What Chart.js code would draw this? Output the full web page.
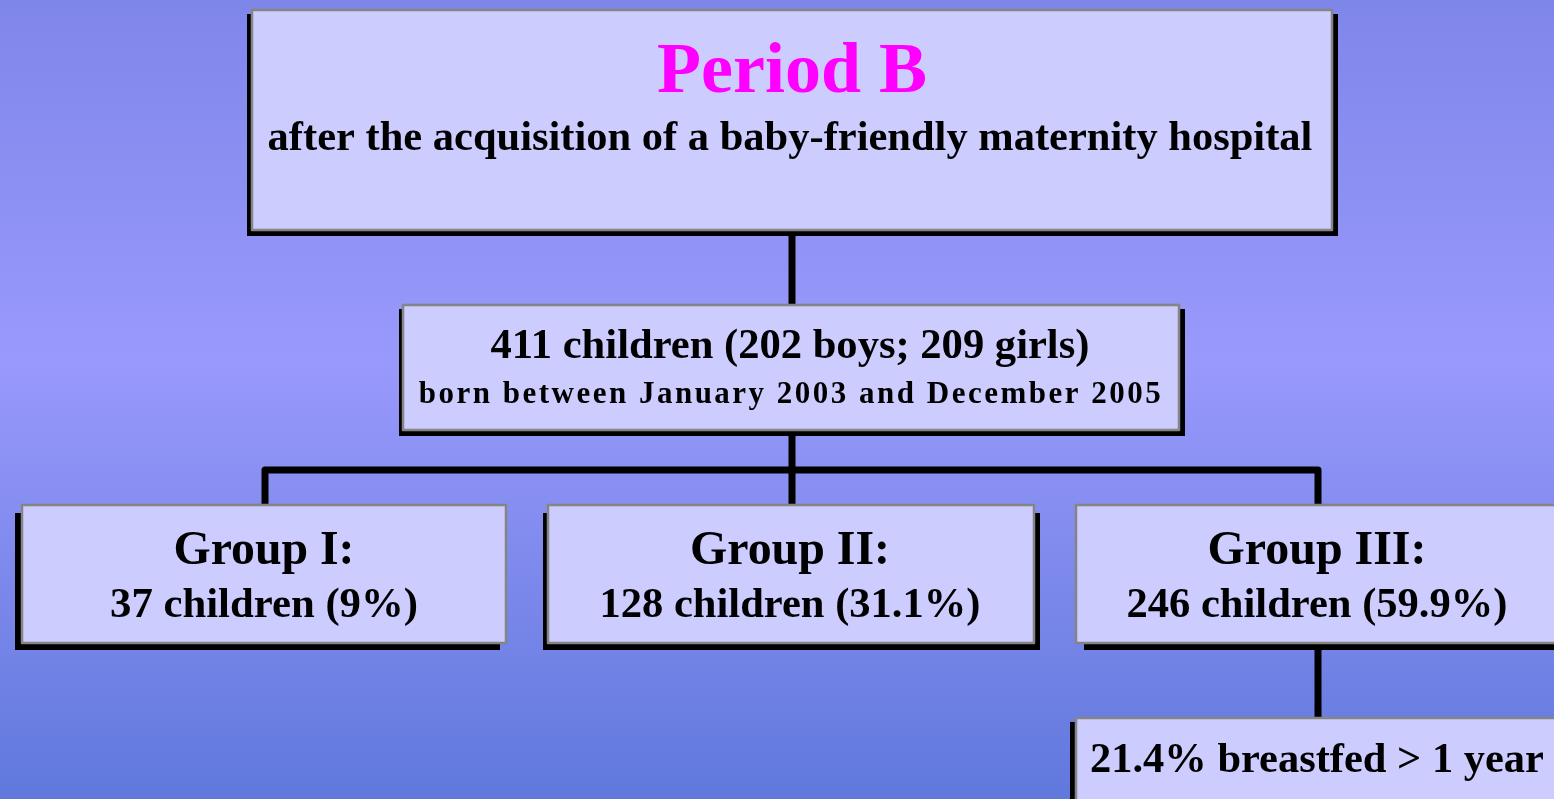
<!DOCTYPE html>
<html>
<head>
<meta charset="utf-8">
<script src="https://cdn.jsdelivr.net/npm/chart.js@4/dist/chart.umd.min.js"></script>
<style>
  html, body { margin: 0; padding: 0; overflow: hidden; }
  #flow { display: block; }
</style>
</head>
<body>
<canvas id="flow" width="1554" height="799"></canvas>
<script>
// Data
const periodTitle = "Period B";
const periodSubtitle = "after the acquisition of a baby-friendly maternity hospital";
const totalChildren = 411;
const boys = 202;
const girls = 209;
const birthRange = "born between January 2003 and December 2005";
const groupNames = ["Group I:", "Group II:", "Group III:"];
const groupCounts = [37, 128, 246];
const groupPercents = ["9", "31.1", "59.9"];
const breastfedPercent = "21.4";

// Layout (in page units, 0..1554 x 0..799)
const boxes = [
  { x0: 252, y0: 10, x1: 1332, y1: 230, sh: { l: 5, r: 6, b: 6, t: 4 } },
  { x0: 403, y0: 305, x1: 1179, y1: 430, sh: { l: 4, r: 6, b: 6, t: 4 } },
  { x0: 22, y0: 505, x1: 506, y1: 643, sh: { l: 7, r: -6, b: 7, t: 8 } },
  { x0: 548, y0: 505, x1: 1034, y1: 643, sh: { l: 5, r: 6, b: 7, t: 8 } },
  { x0: 1076, y0: 505, x1: 1560, y1: 643, sh: { l: -8, r: 0, b: 7, t: 8 } },
  { x0: 1076, y0: 718, x1: 1560, y1: 810, sh: { l: 6, r: 0, b: 6, t: 4 } },
];
const connectors = [
  [[792, 230], [792, 305]],
  [[792, 430], [792, 470]],
  [[265, 505], [265, 470], [1318, 470], [1318, 505]],
  [[792, 470], [792, 505]],
  [[1318, 643], [1318, 718]],
];
const groupCenters = [264, 790, 1317];

const texts = [
  { t: periodTitle, cx: 792, base: 92, w: 270, color: "#ff00ff" },
  { t: periodSubtitle, cx: 790, base: 150, w: 1045 },
  { t: `${totalChildren} children (${boys} boys; ${girls} girls)`, cx: 790, base: 358, w: 599 },
  { t: birthRange, cx: 791, base: 403, w: 742, size: 31 },
  ...groupNames.map((g, i) => ({ t: g, cx: groupCenters[i], base: 564, w: [181, 200, 219][i] })),
  ...groupCounts.map((c, i) => ({ t: `${c} children (${groupPercents[i]}%)`, cx: groupCenters[i], base: 617, w: [308, 381, 381][i] })),
  { t: `${breastfedPercent}% breastfed > 1 year`, lx: 1090, base: 772, w: 454 },
];

const FONT = "'Liberation Serif', 'Times New Roman', serif";

const flowPlugin = {
  id: "flow",
  beforeDraw(chart) {
    const { ctx, width, height } = chart;
    const g = ctx.createLinearGradient(0, 0, 0, height);
    g.addColorStop(0, "#7f86ea");
    g.addColorStop(0.45, "#9999fb");
    g.addColorStop(1, "#6078dc");
    ctx.save();
    ctx.fillStyle = g;
    ctx.fillRect(0, 0, width, height);
    ctx.restore();
  },
  afterDatasetsDraw(chart) {
    const { ctx } = chart;
    const X = (v) => chart.scales.x.getPixelForValue(v);
    const Y = (v) => chart.scales.y.getPixelForValue(v);
    ctx.save();

    // connectors
    ctx.strokeStyle = "#000";
    ctx.lineWidth = 7;
    ctx.lineJoin = "round";
    connectors.forEach(pts => {
      ctx.beginPath();
      pts.forEach(([x, y], i) => i ? ctx.lineTo(X(x), Y(y)) : ctx.moveTo(X(x), Y(y)));
      ctx.stroke();
    });

    // boxes
    boxes.forEach(b => {
      const s = b.sh;
      ctx.fillStyle = "#000";
      ctx.fillRect(X(b.x0 - s.l), Y(b.y0 + s.t), X(b.x1 + s.r) - X(b.x0 - s.l), Y(b.y1 + s.b) - Y(b.y0 + s.t));
      ctx.fillStyle = "#ccccff";
      ctx.fillRect(X(b.x0), Y(b.y0), X(b.x1) - X(b.x0), Y(b.y1) - Y(b.y0));
      ctx.strokeStyle = "#858585";
      ctx.lineWidth = 2.5;
      ctx.strokeRect(X(b.x0), Y(b.y0), X(b.x1) - X(b.x0), Y(b.y1) - Y(b.y0));
    });

    // text, sized to fit measured width
    ctx.textBaseline = "alphabetic";
    ctx.textAlign = "left";
    texts.forEach(tx => {
      ctx.letterSpacing = "0px";
      ctx.font = `bold 100px ${FONT}`;
      const m = ctx.measureText(tx.t).width;
      const target = X(tx.w) - X(0);
      let size = target / m * 100;
      if (tx.size) {
        size = tx.size;
        ctx.font = `bold ${size}px ${FONT}`;
        const mm = ctx.measureText(tx.t).width;
        ctx.letterSpacing = ((target - mm) / (tx.t.length - 1)) + "px";
      }
      ctx.font = `bold ${size}px ${FONT}`;
      ctx.fillStyle = tx.color || "#000";
      const w = ctx.measureText(tx.t).width;
      const left = tx.lx !== undefined ? X(tx.lx) : X(tx.cx) - w / 2;
      ctx.fillText(tx.t, left, Y(tx.base));
    });
    ctx.restore();
  },
};

new Chart(document.getElementById("flow").getContext("2d"), {
  type: "scatter",
  data: { datasets: [{ data: [], pointRadius: 0 }] },
  options: {
    responsive: false,
    animation: false,
    events: [],
    layout: { padding: 0 },
    plugins: { legend: { display: false }, tooltip: { enabled: false } },
    scales: {
      x: { type: "linear", min: 0, max: 1554, display: false },
      y: { type: "linear", min: 0, max: 799, reverse: true, display: false },
    },
  },
  plugins: [flowPlugin],
});
</script>
</body>
</html>
